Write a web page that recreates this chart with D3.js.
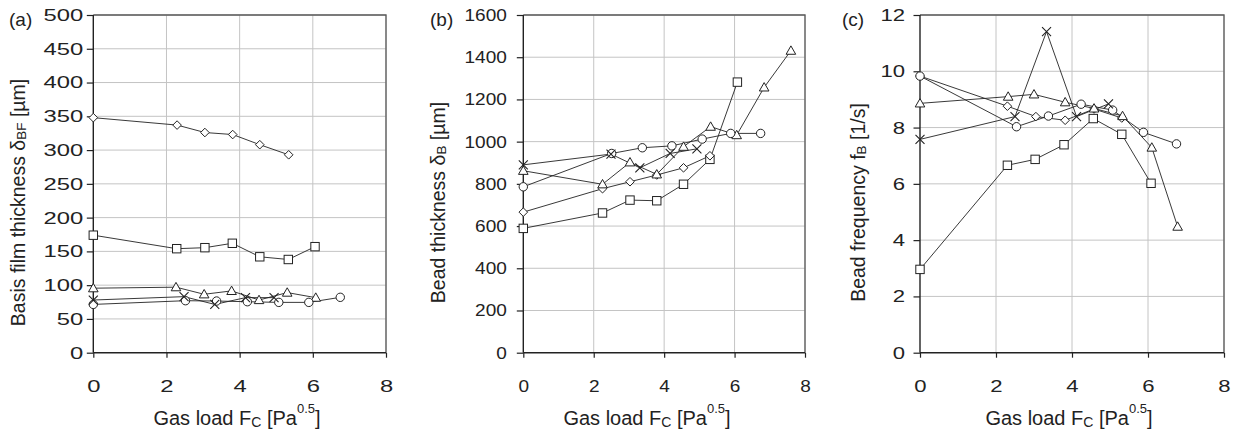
<!DOCTYPE html>
<html>
<head>
<meta charset="utf-8">
<script src="https://cdn.jsdelivr.net/npm/d3@7"></script>
<style>
  html, body { margin: 0; padding: 0; background: #fff; }
  svg { display: block; font-family: "Liberation Sans", Arial, sans-serif; }
</style>
</head>
<body>
<svg id="chart" width="1234" height="435"></svg>
<script>
// Gas load ticks shared by all three panels
const xTicks = [0, 2, 4, 6, 8];
const yTicksA = [0, 50, 100, 150, 200, 250, 300, 350, 400, 450, 500];
const yTicksB = [0, 200, 400, 600, 800, 1000, 1200, 1400, 1600];
const yTicksC = [0, 2, 4, 6, 8, 10, 12];

// (a) basis film thickness [µm] vs gas load, [F_C, value]
const aDiamond  = [[0, 348], [2.29, 337], [3.05, 326], [3.81, 323], [4.55, 308], [5.34, 293]];
const aSquare   = [[0, 174], [2.28, 154], [3.05, 155.5], [3.8, 162], [4.55, 142], [5.33, 138], [6.06, 157]];
const aTriangle = [[0, 95.5], [2.26, 97], [3.03, 86.5], [3.78, 91.5], [4.53, 78], [5.3, 89], [6.08, 81.5]];
const aCircle   = [[0, 71.5], [2.52, 77], [3.37, 76.5], [4.21, 75.5], [5.07, 74.5], [5.89, 74.5], [6.75, 82]];
const aCross    = [[0, 78], [2.48, 83], [3.32, 71.5], [4.16, 81.5], [4.94, 81.5]];

// (b) bead thickness [µm]
const bSquare   = [[0, 589], [2.25, 662], [3.03, 723], [3.79, 720], [4.55, 798], [5.3, 916], [6.08, 1282]];
const bDiamond  = [[0, 666], [2.25, 777], [3.03, 810], [3.79, 842], [4.55, 876], [5.3, 933]];
const bTriangle = [[0, 862], [2.25, 798], [3.03, 902], [3.79, 845], [4.55, 976], [5.32, 1071], [6.06, 1031], [6.84, 1257], [7.6, 1431]];
const bCircle   = [[0, 786], [2.51, 944], [3.38, 971], [4.22, 980], [5.08, 1012], [5.89, 1039], [6.74, 1039]];
const bCross    = [[0, 890], [2.49, 941], [3.31, 876], [4.17, 944], [4.93, 966]];

// (c) bead frequency [1/s]
const cSquare   = [[0, 2.96], [2.3, 6.66], [3.03, 6.87], [3.79, 7.39], [4.56, 8.32], [5.31, 7.76], [6.08, 6.02]];
const cDiamond  = [[0, 9.83], [2.3, 8.76], [3.05, 8.39], [3.82, 8.26], [4.58, 8.66], [5.31, 8.34]];
const cTriangle = [[0, 8.86], [2.32, 9.1], [3.0, 9.18], [3.82, 8.9], [4.58, 8.68], [5.33, 8.41], [6.1, 7.29], [6.78, 4.48]];
const cCircle   = [[0, 9.83], [2.54, 8.03], [3.38, 8.41], [4.24, 8.83], [5.07, 8.62], [5.88, 7.83], [6.75, 7.42]];
const cCross    = [[0, 7.58], [2.5, 8.39], [3.33, 11.41], [4.12, 8.39], [4.96, 8.84]];

const panels = [
  {
    tag: "(a)", left: 93.3, right: 386, yMax: 500, yTicks: yTicksA,
    tagX: 9, yLabelX: 25, tickPad: 3.5, stretch: 1.4, xLabelCx: 237,
    yLabel: ["Basis film thickness  δ", "BF", " [µm]"],
    series: [
      { shape: "diamond", data: aDiamond },
      { shape: "square", data: aSquare },
      { shape: "triangle", data: aTriangle },
      { shape: "circle", data: aCircle },
      { shape: "cross", data: aCross }
    ]
  },
  {
    tag: "(b)", left: 523.3, right: 805, yMax: 1600, yTicks: yTicksB,
    tagX: 430, yLabelX: 445, tickPad: 10, stretch: 1.12, xLabelCx: 647,
    yLabel: ["Bead thickness δ", "B", " [µm]"],
    series: [
      { shape: "square", data: bSquare },
      { shape: "diamond", data: bDiamond },
      { shape: "triangle", data: bTriangle },
      { shape: "circle", data: bCircle },
      { shape: "cross", data: bCross }
    ]
  },
  {
    tag: "(c)", left: 920, right: 1224, yMax: 12, yTicks: yTicksC,
    tagX: 842, yLabelX: 865, tickPad: 8.5, stretch: 1.3, xLabelCx: 1069,
    yLabel: ["Bead frequency f", "B", " [1/s]"],
    series: [
      { shape: "square", data: cSquare },
      { shape: "diamond", data: cDiamond },
      { shape: "triangle", data: cTriangle },
      { shape: "circle", data: cCircle },
      { shape: "cross", data: cCross }
    ]
  }
];

const plotTop = 15, plotBottom = 352.7;
const svg = d3.select("#chart");
const ink = "#222";
const tickFont = 17;
const titleFont = 19.5;
const yTickLen = 6.5;
const yTitleCy = 202.5;

function marker(g, shape, cx, cy) {
  const s = 4.2;
  if (shape === "circle") {
    g.append("circle").attr("cx", cx).attr("cy", cy).attr("r", s)
      .attr("fill", "#fff").attr("stroke", ink).attr("stroke-width", 1);
  } else if (shape === "square") {
    g.append("rect").attr("x", cx - s).attr("y", cy - s).attr("width", 2 * s).attr("height", 2 * s)
      .attr("fill", "#fff").attr("stroke", ink).attr("stroke-width", 1);
  } else if (shape === "diamond") {
    const d = 4.3;
    g.append("path").attr("d", `M${cx},${cy - d}L${cx + d},${cy}L${cx},${cy + d}L${cx - d},${cy}Z`)
      .attr("fill", "#fff").attr("stroke", ink).attr("stroke-width", 1);
  } else if (shape === "triangle") {
    const h = 4.8;
    g.append("path").attr("d", `M${cx},${cy - h}L${cx + h},${cy + h * 0.75}L${cx - h},${cy + h * 0.75}Z`)
      .attr("fill", "#fff").attr("stroke", ink).attr("stroke-width", 1);
  } else if (shape === "cross") {
    const c = 4.5;
    g.append("path").attr("d", `M${cx - c},${cy - c}L${cx + c},${cy + c}M${cx - c},${cy + c}L${cx + c},${cy - c}`)
      .attr("fill", "none").attr("stroke", ink).attr("stroke-width", 1.1);
  }
}

panels.forEach(p => {
  const x = d3.scaleLinear().domain([0, 8]).range([p.left, p.right]);
  const y = d3.scaleLinear().domain([0, p.yMax]).range([plotBottom, plotTop]);
  const g = svg.append("g");

  // grid
  g.append("g").selectAll("line").data(p.yTicks.slice(1)).join("line")
    .attr("x1", p.left).attr("x2", p.right)
    .attr("y1", d => y(d)).attr("y2", d => y(d))
    .attr("stroke", "#c4c4c4").attr("stroke-width", 1);
  g.append("g").selectAll("line").data(xTicks.slice(1)).join("line")
    .attr("y1", plotTop).attr("y2", plotBottom)
    .attr("x1", d => x(d)).attr("x2", d => x(d))
    .attr("stroke", "#c4c4c4").attr("stroke-width", 1);

  // frame: top and right
  g.append("path")
    .attr("d", `M${p.left},${plotTop}H${p.right}V${plotBottom}`)
    .attr("fill", "none").attr("stroke", "#5a5a5a").attr("stroke-width", 1.3);

  // axes
  const yAxis = d3.axisLeft(y).tickValues(p.yTicks).tickSize(yTickLen).tickPadding(p.tickPad).tickFormat(d3.format("d"));
  const xAxis = d3.axisBottom(x).tickValues(xTicks).tickSize(5).tickPadding(22).tickFormat(d3.format("d"));
  const ya = g.append("g").attr("transform", `translate(${p.left},0)`).call(yAxis);
  const xa = g.append("g").attr("transform", `translate(0,${plotBottom})`).call(xAxis);
  [ya, xa].forEach(a => {
    a.select(".domain").attr("stroke", ink).attr("stroke-width", 1.4);
    a.selectAll(".tick line").attr("stroke", ink).attr("stroke-width", 1.2);
    a.selectAll(".tick text").attr("fill", ink).attr("font-size", tickFont)
      .attr("font-family", "'Liberation Sans', Arial, sans-serif");
  });
  // widen the tick numerals, keeping their anchors in place
  ya.selectAll(".tick text").attr("x", 0)
    .attr("transform", `translate(${-(yTickLen + p.tickPad)},0) scale(${p.stretch},1)`);
  xa.selectAll(".tick text").attr("transform", `scale(${p.stretch},1)`);
  xa.select(".domain").attr("d", `M${p.left},0H${p.right}`);
  ya.select(".domain").attr("d", `M0,${plotBottom}V${plotTop}`);

  // series: line first, then open markers
  p.series.forEach(s => {
    const line = d3.line().x(d => x(d[0])).y(d => y(d[1]));
    g.append("path").datum(s.data).attr("d", line)
      .attr("fill", "none").attr("stroke", ink).attr("stroke-width", 0.9);
  });
  p.series.forEach(s => {
    const mg = g.append("g");
    s.data.forEach(d => marker(mg, s.shape, x(d[0]), y(d[1])));
  });

  // panel tag
  svg.append("text").attr("x", p.tagX).attr("y", 26).attr("font-size", 19).attr("fill", ink).text(p.tag);

  // y label
  const yl = svg.append("text")
    .attr("transform", `translate(${p.yLabelX},${yTitleCy}) rotate(-90)`)
    .attr("text-anchor", "middle").attr("font-size", titleFont).attr("fill", ink);
  yl.append("tspan").text(p.yLabel[0]);
  yl.append("tspan").attr("font-size", 13.5).attr("dy", 1).text(p.yLabel[1]);
  yl.append("tspan").attr("dy", -1).text(p.yLabel[2]);

  // x label
  const xl = svg.append("text")
    .attr("x", p.xLabelCx).attr("y", 425)
    .attr("text-anchor", "middle").attr("font-size", 20).attr("fill", ink);
  xl.append("tspan").text("Gas load F");
  xl.append("tspan").attr("font-size", 14).attr("dy", 1.5).text("C");
  xl.append("tspan").attr("dy", -1.5).text(" [Pa");
  xl.append("tspan").attr("font-size", 13).attr("dy", -12).text("0.5");
  xl.append("tspan").attr("dy", 12).text("]");
});
</script>
</body>
</html>
